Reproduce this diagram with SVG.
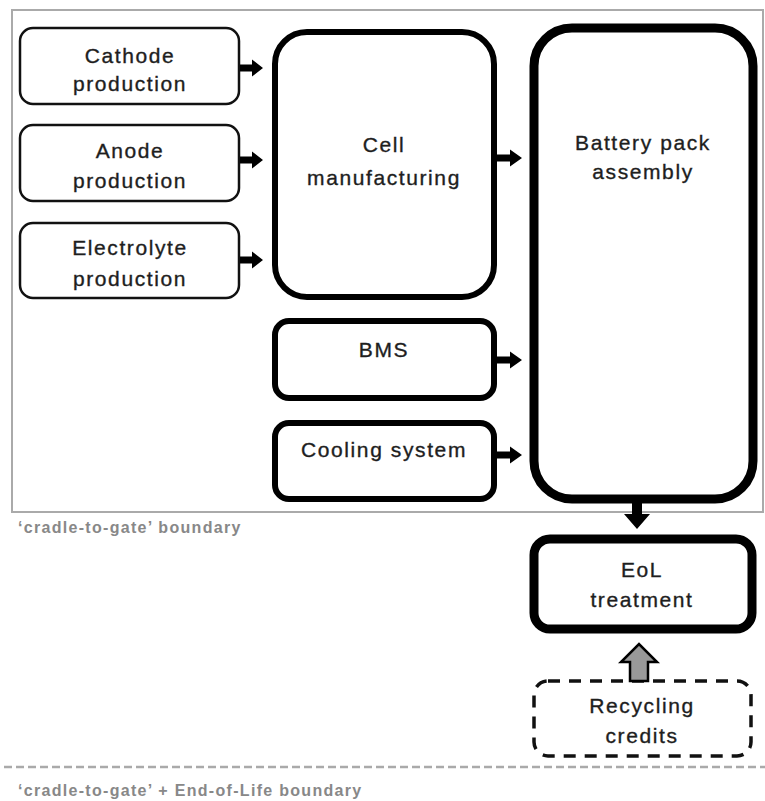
<svg xmlns="http://www.w3.org/2000/svg" width="765" height="801" viewBox="0 0 765 801">
<style>
.t{font-family:"Liberation Sans",Arial,sans-serif;font-size:21px;fill:#1e1e1e;stroke:#1e1e1e;stroke-width:0.35;text-anchor:middle;letter-spacing:1.6px}
.b{font-family:"Liberation Sans",Arial,sans-serif;font-size:16px;font-weight:bold;fill:#888;letter-spacing:1.3px}
.thin{fill:#fff;stroke:#111;stroke-width:2.5}
.thick{fill:#fff;stroke:#000;stroke-width:6}
.heavy{fill:#fff;stroke:#000;stroke-width:9}
.arr{fill:#000}
</style>
<rect x="0" y="0" width="765" height="801" fill="#fff"/>
<rect id="boundary" x="12" y="10" width="751" height="502" fill="none" stroke="#aaa" stroke-width="2"/>
<line x1="4" y1="767" x2="765" y2="767" stroke="#aaa" stroke-width="2.5" stroke-dasharray="8,4"/>
<text class="b" x="18" y="533">‘cradle-to-gate’ boundary</text>
<text class="b" x="18" y="796">‘cradle-to-gate’ + End-of-Life boundary</text>

<g id="cathode"><rect class="thin" x="20" y="28" width="219" height="76" rx="13"/><text class="t" x="130" y="63">Cathode</text><text class="t" x="130" y="91">production</text></g>
<g id="anode"><rect class="thin" x="20" y="125" width="219" height="76" rx="13"/><text class="t" x="130" y="158">Anode</text><text class="t" x="130" y="188">production</text></g>
<g id="electrolyte"><rect class="thin" x="20" y="223" width="219" height="75" rx="13"/><text class="t" x="130" y="255">Electrolyte</text><text class="t" x="130" y="286">production</text></g>
<g id="cell"><rect class="thick" x="275" y="32" width="219" height="265" rx="32"/><text class="t" x="384" y="152">Cell</text><text class="t" x="384" y="185">manufacturing</text></g>
<g id="bms"><rect class="thick" x="275" y="321" width="219" height="77" rx="14"/><text class="t" x="384" y="357">BMS</text></g>
<g id="cooling"><rect class="thick" x="275" y="423" width="219" height="76" rx="14"/><text class="t" x="384" y="457">Cooling system</text></g>
<g id="battery"><rect class="heavy" x="534" y="28" width="219" height="471" rx="38"/><text class="t" x="643" y="150">Battery pack</text><text class="t" x="643" y="179">assembly</text></g>
<g id="eol"><rect class="heavy" x="534" y="539" width="218" height="90" rx="16"/><text class="t" x="642" y="577">EoL</text><text class="t" x="642" y="607">treatment</text></g>
<g id="recycling"><rect x="534" y="681" width="217" height="75" rx="14" fill="#fff" stroke="#111" stroke-width="3.5" stroke-dasharray="12,9"/><text class="t" x="642" y="713">Recycling</text><text class="t" x="642" y="743">credits</text></g>

<g id="connectors">
<polygon class="arr" points="240,64.5 252,64.5 252,59.5 263,68 252,76.5 252,71.5 240,71.5"/>
<polygon class="arr" points="240,156.5 252,156.5 252,151.5 263,160 252,168.5 252,163.5 240,163.5"/>
<polygon class="arr" points="240,256.5 252,256.5 252,251.5 263,260 252,268.5 252,263.5 240,263.5"/>
<polygon class="arr" points="497,154.5 510,154.5 510,149.5 522,158 510,166.5 510,161.5 497,161.5"/>
<polygon class="arr" points="497,356.5 510,356.5 510,351.5 522,360 510,368.5 510,363.5 497,363.5"/>
<polygon class="arr" points="497,451.5 510,451.5 510,446.5 522,455 510,463.5 510,458.5 497,458.5"/>
<polygon class="arr" points="632,503 642,503 642,514 650,514 637,529 624,514 632,514"/>
<polygon points="630,681 630,662 621,662 639,644 657,662 648,662 648,681" fill="#999" stroke="#000" stroke-width="2.5"/>
</g>
</svg>
